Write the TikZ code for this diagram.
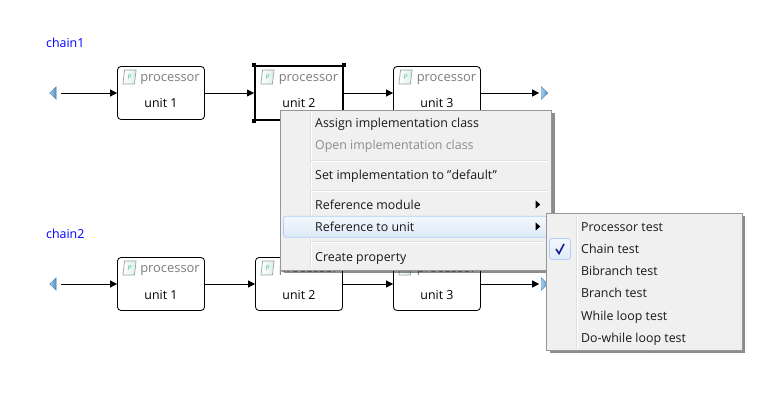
\documentclass[tikz,border=0pt]{standalone}
\usepackage{fontspec}
\setmainfont{Open Sans}
\usepackage{tikz}
\usetikzlibrary{shapes.geometric, arrows.meta, positioning, shadows}
\definecolor{chainblue}{RGB}{0,0,255}
\definecolor{procgrey}{RGB}{125,125,125}
\definecolor{menugrey}{RGB}{240,240,240}
\definecolor{menuedge}{RGB}{151,151,151}
\definecolor{sepgrey}{RGB}{224,224,224}
\definecolor{itemtext}{RGB}{25,25,25}
\definecolor{offtext}{RGB}{140,140,140}
\definecolor{hiliteedge}{RGB}{174,207,247}
\definecolor{hilitetop}{RGB}{244,248,253}
\definecolor{hilitebot}{RGB}{222,234,248}
\definecolor{portblue}{RGB}{90,165,225}
\definecolor{iconedge}{RGB}{150,165,160}
\definecolor{iconfill}{RGB}{222,238,234}
\definecolor{icongreen}{RGB}{60,190,160}
\definecolor{checkblue}{RGB}{20,30,140}

\begin{document}
\begin{tikzpicture}[
  x=1pt, y=-1pt,
  font=\fontsize{12.4pt}{14pt}\selectfont,
  chainlbl/.style={inner sep=0pt, anchor=west, text=chainblue, text height=13pt, text depth=3pt},
  unitbox/.style={rectangle, rounded corners=3.5pt, draw=black, fill=white, line width=0.8pt,
              minimum width=87pt, minimum height=53pt, inner sep=0pt},
  unitsel/.style={rectangle, draw=black, fill=white, line width=2pt,
              minimum width=88pt, minimum height=54pt, inner sep=0pt},
  handle/.style={rectangle, fill=black, minimum size=4.5pt, inner sep=0pt},
  proclbl/.style={inner sep=0pt, text=procgrey, text height=11pt, text depth=3pt,
              font=\fontsize{12.9pt}{14pt}\selectfont},
  unitlbl/.style={inner sep=0pt, text=black, text height=11pt, text depth=3pt},
  icon/.style={rectangle, draw=iconedge, left color=white, right color=iconfill, line width=0.7pt,
              minimum width=11.5pt, minimum height=14pt, inner sep=0pt, text=icongreen,
              xslant=0.12, transform shape, font=\fontsize{6.5pt}{6.5pt}\selectfont},
  portl/.style={isosceles triangle, isosceles triangle stretches, shape border rotate=180,
              left color=portblue!55!white, right color=portblue!85!black, draw=portblue!70!black,
              line width=0.3pt, minimum height=6.5pt, minimum width=12.5pt, inner sep=0pt},
  portr/.style={portl, shape border rotate=0},
  arr/.style={-{Triangle[length=7pt,width=7pt]}, line width=0.8pt, black},
  menubox/.style={rectangle, draw=menuedge, fill=menugrey, line width=0.9pt, inner sep=0pt,
              drop shadow={shadow xshift=3pt, shadow yshift=-3pt, fill=black, opacity=0.45}},
  item/.style={inner sep=0pt, anchor=west, text=itemtext, text height=13pt, text depth=3pt},
  itemoff/.style={item, text=offtext},
  sepline/.style={draw=sepgrey, line width=1pt},
  sepwhite/.style={draw=white, line width=1pt},
  hilite/.style={rectangle, rounded corners=2.5pt, draw=hiliteedge, top color=hilitetop,
              bottom color=hilitebot, line width=0.8pt, inner sep=0pt},
  submark/.style={isosceles triangle, isosceles triangle stretches, fill=black,
              minimum height=4.5pt, minimum width=8pt, inner sep=0pt}
]
\useasboundingbox (0,0) rectangle (762,419);

% ── Chain titles ──
\node[chainlbl] (title1) at (46,43)  {chain1};
\node[chainlbl] (title2) at (46,234) {chain2};

% ── Chain 1 ──
\node[portl] (in1) at (53.5,93) {};
\node[unitbox] (a1) at (161,93) {};
\node[unitsel] (a2) at (299,93) {};
\node[unitbox] (a3) at (437,93) {};
\node[portr] (out1) at (544,93) {};
\node[handle] (h1) at (a2.north west) {};
\node[handle] (h2) at (a2.north east) {};
\node[handle] (h3) at (a2.south west) {};
\draw[arr, shorten <=5pt] (in1) -- (a1);
\draw[arr] (a1) -- (a2);
\draw[arr] (a2) -- (a3);
\draw[arr, shorten >=2pt] (a3) -- (out1);

% ── Chain 2 ──
\node[portl] (in2) at (53.5,284) {};
\node[unitbox] (b1) at (161,284) {};
\node[unitbox] (b2) at (299,284) {};
\node[unitbox] (b3) at (437,284) {};
\node[portr] (out2) at (544,284) {};
\draw[arr, shorten <=5pt] (in2) -- (b1);
\draw[arr] (b1) -- (b2);
\draw[arr] (b2) -- (b3);
\draw[arr, shorten >=2pt] (b3) -- (out2);

% ── Box contents: icon, type, name ──
\node[icon] (ia1) at (129.5,77) {P};
\node[proclbl] (pa1) at (170,77.5) {processor};
\node[unitlbl] (ua1) at (161,104) {unit 1};
\node[icon] (ia2) at (267.5,77) {P};
\node[proclbl] (pa2) at (308.5,77.5) {processor};
\node[unitlbl] (ua2) at (299,104) {unit 2};
\node[icon] (ia3) at (405.5,77) {P};
\node[proclbl] (pa3) at (446.5,77.5) {processor};
\node[unitlbl] (ua3) at (437,104) {unit 3};
\node[icon] (ib1) at (129.5,268) {P};
\node[proclbl] (pb1) at (170,268.5) {processor};
\node[unitlbl] (ub1) at (161,295) {unit 1};
\node[icon] (ib2) at (267.5,268) {P};
\node[proclbl] (pb2) at (308.5,268.5) {processor};
\node[unitlbl] (ub2) at (299,295) {unit 2};
\node[icon] (ib3) at (405.5,268) {P};
\node[proclbl] (pb3) at (446.5,268.5) {processor};
\node[unitlbl] (ub3) at (437,295) {unit 3};

% ── Context menu ──
\node[menubox, minimum width=271pt, minimum height=160pt] (menu) at (416,190) {};
\draw[sepline]  (310,112) -- (310,268);
\draw[sepwhite] (311,112) -- (311,268);
\draw[sepline]  (311,160.5) -- (549,160.5);
\draw[sepwhite] (311,161.5) -- (549,161.5);
\draw[sepline]  (311,190.5) -- (549,190.5);
\draw[sepwhite] (311,191.5) -- (549,191.5);
\draw[sepline]  (311,241.5) -- (549,241.5);
\draw[sepwhite] (311,242.5) -- (549,242.5);
\node[hilite, minimum width=266pt, minimum height=21pt] (row) at (416.5,226.7) {};
\node[item]    (m1) at (315,123) {Assign implementation class};
\node[itemoff] (m2) at (315,145) {Open implementation class};
\node[item]    (m3) at (315,175) {Set implementation to "default"};
\node[item]    (m4) at (315,205) {Reference module};
\node[item]    (m5) at (315,227) {Reference to unit};
\node[item]    (m6) at (315,257) {Create property};
\node[submark] (s1) at (537.5,204.5) {};
\node[submark] (s2) at (537.5,226.5) {};

% ── Submenu ──
\node[menubox, minimum width=195.6pt, minimum height=136.7pt] (sub) at (644.5,281.7) {};
\draw[sepline]  (576,216) -- (576,348);
\draw[sepwhite] (577,216) -- (577,348);
\node[hilite, minimum width=21pt, minimum height=21pt] (tick) at (560,249) {};
\draw[checkblue, line width=1.6pt] (556,249) -- (559,253.5) -- (564,244);
\node[item] (t1) at (581,227) {Processor test};
\node[item] (t2) at (581,249) {Chain test};
\node[item] (t3) at (581,271) {Bibranch test};
\node[item] (t4) at (581,293) {Branch test};
\node[item] (t5) at (581,315) {While loop test};
\node[item] (t6) at (581,337) {Do-while loop test};

\end{tikzpicture}
\end{document}
